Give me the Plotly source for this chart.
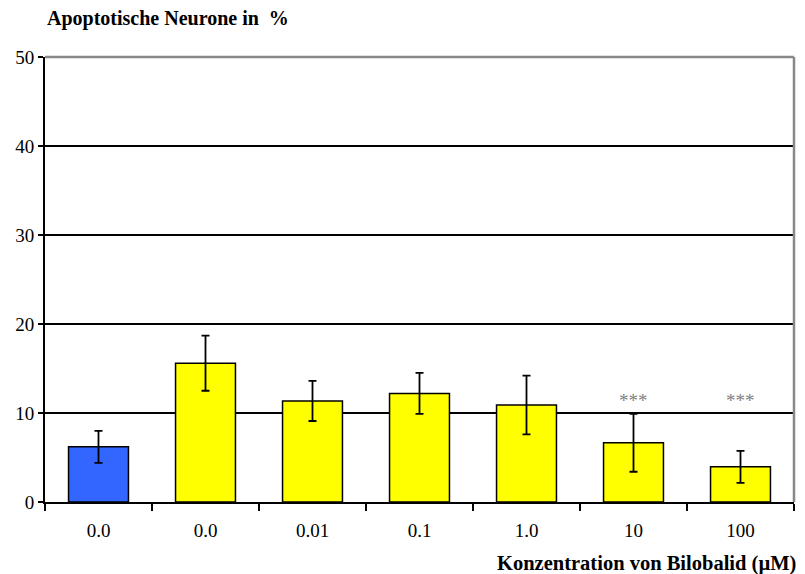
import plotly.graph_objects as go

# Concentrations of bilobalide (µM); first group is the untreated control
categories = ["0.0", "0.0", "0.01", "0.1", "1.0", "10", "100"]
apoptotic_pct = [6.2, 15.6, 11.35, 12.2, 10.9, 6.65, 3.95]
sem = [1.8, 3.1, 2.25, 2.3, 3.3, 3.25, 1.8]
significance = ["", "", "", "", "", "***", "***"]
bar_colors = ["#3366ff", "#ffff00", "#ffff00", "#ffff00", "#ffff00", "#ffff00", "#ffff00"]

y_ticks = [0, 10, 20, 30, 40, 50]
positions = list(range(len(categories)))

serif = "Liberation Serif"

fig = go.Figure()
fig.add_trace(go.Bar(
    x=positions,
    y=apoptotic_pct,
    width=0.56,
    marker=dict(color=bar_colors, line=dict(color="black", width=1.5)),
    error_y=dict(type="data", array=sem, visible=True, color="black",
                 thickness=1.8, width=4),
    showlegend=False,
))

# significance markers above the treated groups
for pos, mark in zip(positions, significance):
    if mark:
        fig.add_annotation(x=pos, y=11.4, text=mark, showarrow=False,
                           xref="x", yref="y",
                           font=dict(family=serif, size=19, color="#808080"))

# y-axis caption
fig.add_annotation(x=0, y=1, xref="paper", yref="paper", xanchor="left",
                   yanchor="bottom", xshift=0, yshift=25, showarrow=False,
                   text="<b>Apoptotische Neurone in  %</b>",
                   font=dict(family=serif, size=20, color="black"))
# x-axis caption
fig.add_annotation(x=1, y=0, xref="paper", yref="paper", xanchor="right",
                   yanchor="top", xshift=4, yshift=-48, showarrow=False,
                   text="<b>Konzentration von Bilobalid (µM)</b>",
                   font=dict(family=serif, size=20.5, color="black"))

# grey frame on the top and right edges of the plot area
fig.add_shape(type="line", xref="paper", yref="paper", x0=0, x1=1, y0=1, y1=1,
              line=dict(color="#888888", width=2.5))
fig.add_shape(type="line", xref="paper", yref="paper", x0=1, x1=1, y0=0, y1=1,
              line=dict(color="#888888", width=2.5))

fig.update_layout(
    width=805, height=574,
    margin=dict(l=45, r=11, t=57, b=72),
    plot_bgcolor="white", paper_bgcolor="white",
    font=dict(family=serif, size=19, color="black"),
    xaxis=dict(
        range=[-0.5, len(categories) - 0.5],
        tickmode="array", tickvals=positions, ticktext=categories,
        ticks="", showgrid=False, zeroline=False,
        showline=True, linecolor="black", linewidth=2,
        ticklabelstandoff=10,
        tickfont=dict(family=serif, size=19),
        minor=dict(tickmode="linear", tick0=-0.5, dtick=1, ticks="outside",
                   ticklen=7, tickwidth=2, tickcolor="black", showgrid=False),
    ),
    yaxis=dict(
        range=[0, 50], tickmode="array", tickvals=y_ticks,
        ticks="outside", ticklen=5, tickwidth=2, tickcolor="black",
        showgrid=True, gridcolor="black", gridwidth=1.5,
        zeroline=False, showline=True, linecolor="black", linewidth=2,
        tickfont=dict(family=serif, size=19),
    ),
)

fig.write_html("out.html")
